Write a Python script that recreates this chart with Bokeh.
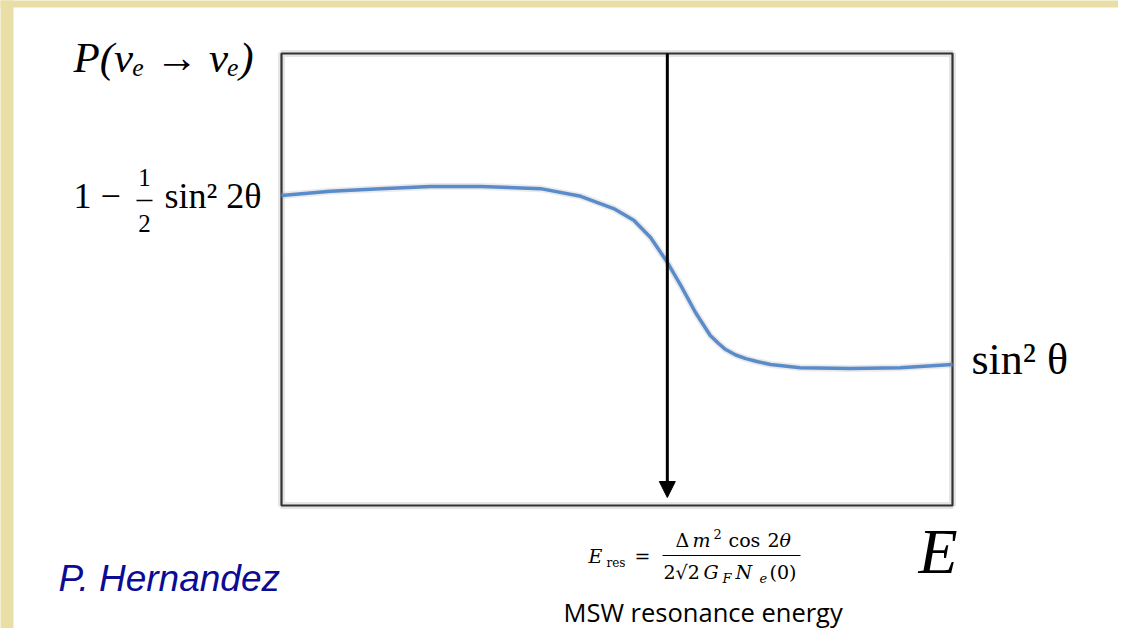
from bokeh.plotting import figure
from bokeh.models import Label, Arrow, NormalHead, BoxAnnotation, Range1d, ColumnDataSource
from bokeh.embed import file_html
from bokeh.resources import INLINE

# ---- data ----
energy = [0.0, 0.73, 1.48, 2.22, 2.97, 3.86, 4.46, 4.95, 5.25, 5.50, 5.75,
          5.95, 6.17, 6.39, 6.51, 6.62, 6.77, 6.92, 7.10, 7.29, 7.73, 8.48, 9.22, 10.0]
prob = [0.686, 0.695, 0.701, 0.706, 0.706, 0.701, 0.684, 0.657, 0.631, 0.593, 0.538,
        0.487, 0.427, 0.376, 0.359, 0.345, 0.333, 0.325, 0.318, 0.312, 0.305, 0.303, 0.305, 0.312]
e_res = 5.75
x_limits = [0, 10]
y_limits = [0, 1]

# ---- layout helpers (picture pixel -> data coords for annotations) ----
FL, FR, FT, FB = 281, 952, 53, 505
W, H = 1118, 628
K = 0.4  # baseline correction (fraction of font size)


def X(px):
    return x_limits[0] + (px - FL) / (FR - FL) * (x_limits[1] - x_limits[0])


def Y(py):
    return y_limits[0] + (FB - py) / (FB - FT) * (y_limits[1] - y_limits[0])


p = figure(width=W, height=H, x_range=Range1d(X(0), X(W)), y_range=Range1d(Y(H), Y(0)),
           x_axis_location=None, y_axis_location=None, toolbar_location=None,
           output_backend="svg", min_border=0)
p.grid.visible = False
p.outline_line_color = None
p.background_fill_color = "white"
p.border_fill_color = "white"

# beige strips at left and top edges
beige = "#e9dea6"
p.add_layout(BoxAnnotation(left=X(-5), right=X(13), bottom=Y(H + 5), top=Y(-5),
                           fill_color=beige, fill_alpha=1, line_alpha=0))
p.add_layout(BoxAnnotation(left=X(-5), right=X(W + 5), bottom=Y(7), top=Y(-5),
                           fill_color=beige, fill_alpha=1, line_alpha=0))

# plot box (with soft shadow)
box = dict(left=[x_limits[0]], right=[x_limits[1]], bottom=[y_limits[0]], top=[y_limits[1]])
p.quad(**box, fill_color=None, line_color="#000000", line_alpha=0.10, line_width=7)
p.quad(**box, fill_color=None, line_color="#333333", line_width=2.2)

src = ColumnDataSource(dict(e=energy, p=prob))
p.line("e", "p", source=src, line_color="#888888", line_alpha=0.18, line_width=7)
p.line("e", "p", source=src, line_color="#5a8ccb", line_width=3.5, line_join="round")

p.add_layout(Arrow(end=NormalHead(size=16, fill_color="black", line_color="black", line_width=1),
                   x_start=e_res, y_start=y_limits[1], x_end=e_res, y_end=Y(497),
                   line_width=3, line_color="black"))


def L(text, px, py, size, style="normal", font="Liberation Serif", align="left", color="black"):
    p.add_layout(Label(x=X(px), y=Y(py - K * size), text=text, text_font=font,
                       text_font_size=f"{size}px", text_font_style=style,
                       text_align=align, text_baseline="alphabetic", text_color=color))


def bar(px0, px1, py, w=1.3):
    p.add_layout(Arrow(end=None, x_start=X(px0), y_start=Y(py), x_end=X(px1), y_end=Y(py),
                       line_width=w, line_color="black"))


# y label
L("P(\u03bd\u2091 \u2192 \u03bd\u2091)", 73, 74, 43, style="italic")

# upper level label: 1 - 1/2 sin^2 2θ
L("1 \u2212", 73, 210, 36)
L("1", 144, 187, 25, align="center")
bar(136, 152, 200)
L("2", 144, 233, 25, align="center")
L("sin\u00b2 2\u03b8", 164, 210, 36)

# lower level label
L("sin\u00b2 \u03b8", 971, 377, 44)

# resonance energy formula
FF = "DejaVu Serif"
L("E", 588, 563, 19, style="italic", font=FF)
L("res", 606, 567, 12, font=FF)
L("=", 634, 563, 19, font=FF)
# numerator
L("\u0394", 675, 547, 19, font=FF)
L("m", 692, 547, 19, style="italic", font=FF)
L("2", 713, 539, 13, font=FF)
L("cos", 728, 547, 19, font=FF)
L("2", 767, 547, 19, font=FF)
L("\u03b8", 779, 547, 19, style="italic", font=FF)
bar(662, 800, 555, 1.1)
# denominator
L("2\u221a2", 663, 579, 19, font=FF)
L("G", 703, 579, 19, style="italic", font=FF)
L("F", 722, 583, 13, style="italic", font=FF)
L("N", 735, 579, 19, style="italic", font=FF)
L("e", 759, 583, 13, style="italic", font=FF)
L("(0)", 769, 579, 19, font=FF)

L("E", 918, 577, 64, style="italic")
L("MSW resonance energy", 563, 622, 25.5, font="Open Sans")
L("P. Hernandez", 58, 593, 37, style="italic", font="Liberation Sans", color="#0b0b94")

open("out.html", "w").write(file_html(p, INLINE))
